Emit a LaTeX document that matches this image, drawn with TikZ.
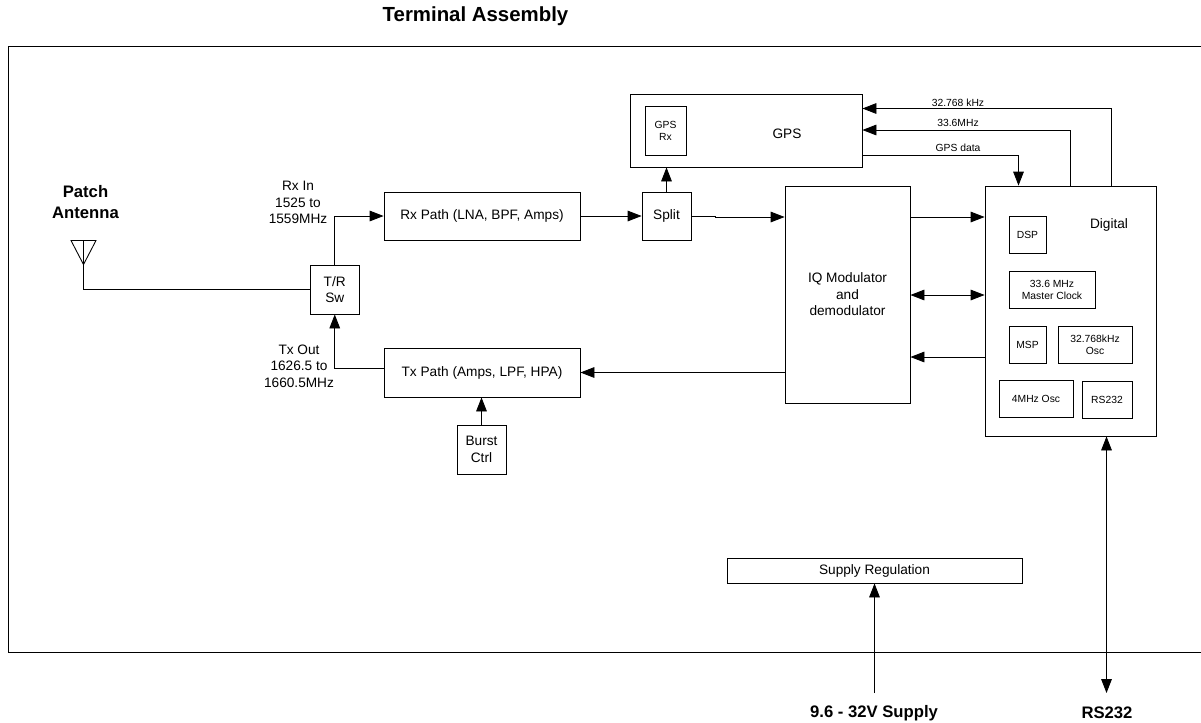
\documentclass[tikz,border=0pt]{standalone}
\usepackage{fontspec}
\setmainfont{Liberation Sans}
\usetikzlibrary{arrows.meta}
\tikzset{
  sized/.style 2 args={minimum width=#1*0.75pt,minimum height=#2*0.75pt},
  box/.style={draw,line width=0.65pt,inner sep=0pt,align=center,font=\fontsize{10.25}{12.4}\selectfont},
  inbox/.style={draw,line width=0.65pt,inner sep=0pt,align=center,font=\fontsize{7.75}{9}\selectfont},
  lbl/.style={inner sep=0pt,align=center,font=\fontsize{10.25}{12.4}\selectfont},
  tiny/.style={inner sep=0pt,align=center,font=\fontsize{7.75}{9}\selectfont},
  bold/.style={inner sep=0pt,align=center,font=\fontsize{12.5}{15.7}\selectfont\bfseries},
  wire/.style={line width=0.65pt},
  arr/.style={wire,-{Triangle[length=10.5pt,width=8pt]}},
  biarr/.style={wire,{Triangle[length=10.5pt,width=8pt]}-{Triangle[length=10.5pt,width=8pt]}}
}
\begin{document}
\begin{tikzpicture}[x=0.75pt,y=-0.75pt]
\useasboundingbox (0,0) rectangle (1201,722);
% frame
\coordinate (frTR) at (1201,46.5);
\coordinate (frTL) at (8,46.5);
\coordinate (frBL) at (8,652.5);
\coordinate (frBR) at (1201,652.5);
\draw[wire] (frTR) -- (frTL) -- (frBL) -- (frBR);
% titles
\node[bold,font=\fontsize{15.3}{18}\selectfont\bfseries] (title) at (475.5,16) {Terminal Assembly};
\node[bold] (patch) at (85.5,202.5) {Patch\\Antenna};
\node[bold] (supplyLbl) at (874,713) {9.6 - 32V Supply};
\node[bold] (rsLbl) at (1107,713) {RS232};
% main blocks
\node[box,sized={49}{49}] (tr) at (334.75,289.5) {T/R\\Sw};
\node[box,sized={196}{48}] (rx) at (482,216) {Rx Path (LNA, BPF, Amps)};
\node[box,sized={196}{49}] (tx) at (482,372.5) {Tx Path (Amps, LPF, HPA)};
\node[box,sized={49}{49}] (burst) at (481.5,449.5) {Burst\\Ctrl};
\node[box,sized={49}{48}] (split) at (666.5,216) {Split};
\node[box,sized={232}{73}] (gps) at (746,130.5) {};
\node[lbl] (gpsLbl) at (787,134) {GPS};
\node[inbox,sized={41}{49}] (gpsrx) at (665.5,130.5) {GPS\\Rx};
\node[box,sized={125}{217}] (iq) at (847.5,294.5) {IQ Modulator\\and\\demodulator};
\node[box,sized={171}{250}] (dig) at (1070.5,311) {};
\node[lbl] (digLbl) at (1109,224.5) {Digital};
\node[inbox,sized={37}{37}] (dsp) at (1027.5,234.5) {DSP};
\node[inbox,sized={86}{37}] (clock) at (1052,289.5) {33.6 MHz\\Master Clock};
\node[inbox,sized={37}{37}] (msp) at (1027.5,344.5) {MSP};
\node[inbox,sized={74}{37}] (osc) at (1095,344.5) {32.768kHz\\Osc};
\node[inbox,sized={74}{37}] (fourm) at (1036,398.5) {4MHz Osc};
\node[inbox,sized={50}{37}] (rsbox) at (1107,399.5) {RS232};
\node[box,sized={295}{25}] (sup) at (874.5,570.5) {Supply Regulation};
% labels
\node[lbl] (rxLbl) at (298,202.5) {Rx In\\1525 to\\1559MHz};
\node[lbl] (txLbl) at (299,366) {Tx Out\\1626.5 to\\1660.5MHz};
\node[tiny] (l32) at (958,102.5) {32.768 kHz};
\node[tiny] (l33) at (958,122.5) {33.6MHz};
\node[tiny] (lgd) at (958,147.5) {GPS data};
% antenna
\coordinate (antL) at (71,240.5);
\coordinate (antR) at (96,240.5);
\coordinate (antTop) at (83.5,240.5);
\coordinate (antTip) at (83.5,264.5);
\draw[wire,line join=miter] (antL) -- (antR) -- (antTip) -- cycle;
\draw[wire] (antTop) -- (antTip) |- (tr.west);
% helper levels
\coordinate (yTx) at (0,368);
\coordinate (yIn) at (0,217);
\coordinate (yBi) at (0,295);
\coordinate (yBack) at (0,357);
\coordinate (y32) at (0,108.5);
\coordinate (y33) at (0,130);
\coordinate (yGd) at (0,155);
\coordinate (x32) at (1111.5,0);
\coordinate (x33) at (1070.5,0);
\coordinate (xGd) at (1018.5,0);
\coordinate (splitKink) at (715,216);
\coordinate (splitKinkB) at (715,217);
\coordinate (supEnd) at (874.5,693);
\coordinate (rsEnd) at (1106.5,693);
% connectors
\draw[arr] (tr.north) |- (rx.west);
\draw[arr] (tx.west |- yTx) -| (tr.south);
\draw[arr] (rx.east) -- (split.west);
\draw[arr] (split.north) -- (gps.south -| split.north);
\draw[arr] (split.east) -- (splitKink) -- (splitKinkB) -- (iq.west |- splitKinkB);
\draw[arr] (iq.east |- yIn) -- (dig.west |- yIn);
\draw[biarr] (iq.east |- yBi) -- (dig.west |- yBi);
\draw[arr] (dig.west |- yBack) -- (iq.east |- yBack);
\draw[arr] (iq.west |- tx.east) -- (tx.east);
\draw[arr] (burst.north) -- (tx.south -| burst.north);
\draw[arr] (dig.north -| x32) |- (gps.east |- y32);
\draw[arr] (dig.north -| x33) |- (gps.east |- y33);
\draw[arr] (gps.east |- yGd) -| (xGd |- dig.north);
\draw[arr] (supEnd) -- (sup.south -| supEnd);
\draw[biarr] (dig.south -| rsEnd) -- (rsEnd);
\end{tikzpicture}
\end{document}
